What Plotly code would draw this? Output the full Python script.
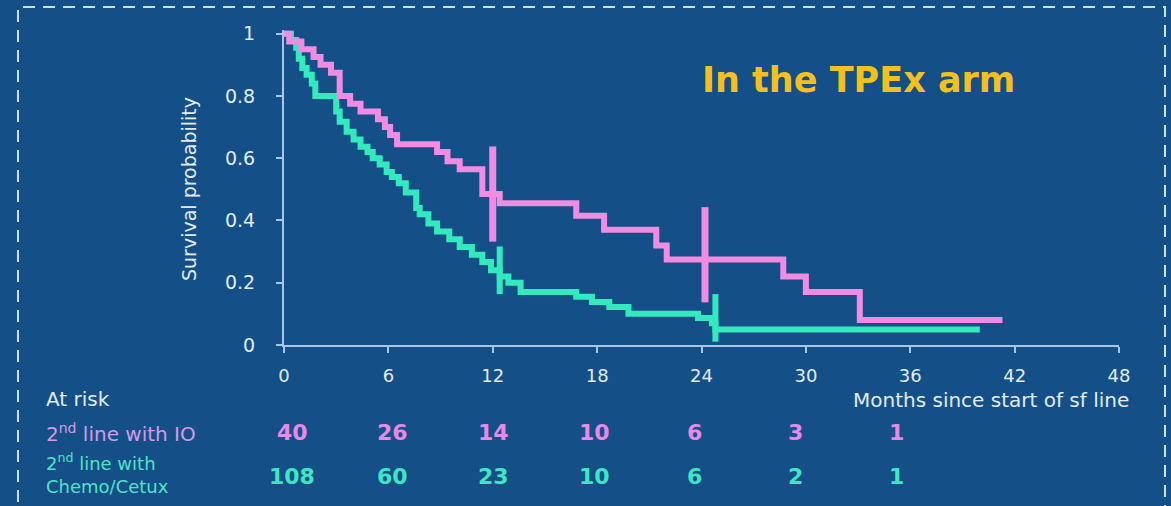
import plotly.graph_objects as go

# Kaplan-Meier step curves (months, survival probability)
io_time = [0, 0.3, 1.0, 1.7, 2.1, 2.7, 3.2, 3.8, 4.4, 5.4, 5.8, 6.1, 6.5, 8.8, 9.4,
           10.1, 11.4, 12.4, 16.8, 18.4, 21.4, 22.0, 28.7, 30.0, 33.1, 41.3]
io_surv = [1.0, 0.975, 0.95, 0.925, 0.90, 0.875, 0.80, 0.775, 0.75, 0.725, 0.70, 0.675,
           0.645, 0.62, 0.59, 0.565, 0.485, 0.455, 0.415, 0.37, 0.32, 0.275, 0.22, 0.17,
           0.08, 0.08]

chemo_time = [0, 0.4, 0.7, 0.85, 1.05, 1.3, 1.6, 1.8, 3.0, 3.2, 3.6, 4.0, 4.4, 4.8, 5.1,
              5.5, 5.9, 6.2, 6.6, 7.0, 7.6, 7.8, 8.3, 8.8, 9.5, 10.1, 10.8, 11.4, 11.9,
              12.4, 12.9, 13.6, 16.8, 17.7, 18.7, 19.8, 23.8, 24.6, 24.8, 40.0]
chemo_surv = [1.0, 0.98, 0.955, 0.92, 0.89, 0.868, 0.84, 0.80, 0.75, 0.717, 0.685, 0.66,
              0.637, 0.62, 0.60, 0.58, 0.556, 0.54, 0.52, 0.49, 0.44, 0.42, 0.39, 0.365,
              0.34, 0.315, 0.29, 0.267, 0.24, 0.22, 0.20, 0.17, 0.155, 0.138, 0.122,
              0.10, 0.087, 0.07, 0.05, 0.05]

# Censoring marks
io_cens_time = [12.0, 24.2]
io_cens_surv = [0.485, 0.29]
chemo_cens_time = [12.4, 24.8]
chemo_cens_surv = [0.24, 0.087]

# Numbers at risk
risk_times = [0, 6, 12, 18, 24, 30, 36]
io_at_risk = [40, 26, 14, 10, 6, 3, 1]
chemo_at_risk = [108, 60, 23, 10, 6, 2, 1]

x_ticks = [0, 6, 12, 18, 24, 30, 36, 42, 48]
y_ticks = [0, 0.2, 0.4, 0.6, 0.8, 1]
y_tick_text = ["0", "0.2", "0.4", "0.6", "0.8", "1"]

BG = "#144f87"
PINK = "#f08ce2"
TEAL = "#33e9be"
AXIS = "#a7c8e4"
TEXT = "#e2ecf5"
FONT = "DejaVu Sans"

fig = go.Figure()

fig.add_trace(go.Scatter(x=chemo_time, y=chemo_surv, mode="lines", line_shape="hv",
                         line=dict(color=TEAL, width=6), hoverinfo="skip"))
fig.add_trace(go.Scatter(x=io_time, y=io_surv, mode="lines", line_shape="hv",
                         line=dict(color=PINK, width=6), hoverinfo="skip"))
fig.add_trace(go.Scatter(x=chemo_cens_time, y=chemo_cens_surv, mode="markers",
                         marker=dict(symbol="line-ns", size=34,
                                     line=dict(color=TEAL, width=6)),
                         cliponaxis=False, hoverinfo="skip"))
fig.add_trace(go.Scatter(x=io_cens_time, y=io_cens_surv, mode="markers",
                         marker=dict(symbol="line-ns", size=68,
                                     line=dict(color=PINK, width=7)),
                         cliponaxis=False, hoverinfo="skip"))

# Plot-area geometry used for placing the free text
L, R, T, B = 284, 52, 30, 161
W, H = 1171, 506
PW, PH = W - L - R, H - T - B


def px_x(px):
    return (px - L) / PW


def px_y(py):
    return (H - B - py) / PH


annotations = [
    dict(text="<b>In the TPEx arm</b>", x=px_x(858), y=px_y(80), xref="paper", yref="paper",
         showarrow=False, font=dict(family=FONT, size=35, color="#f4c020"),
         xanchor="center", yanchor="middle"),
    dict(text="Survival probability", x=px_x(189), y=px_y(189), xref="paper", yref="paper",
         textangle=-90, showarrow=False, font=dict(family=FONT, size=19, color=TEXT),
         xanchor="center", yanchor="middle"),
    dict(text="Months since start of sf line", x=px_x(1131), y=px_y(400), xref="paper",
         yref="paper", showarrow=False, font=dict(family=FONT, size=20, color=TEXT),
         xanchor="right", yanchor="middle"),
    dict(text="At risk", x=px_x(44), y=px_y(399), xref="paper", yref="paper",
         showarrow=False, font=dict(family=FONT, size=20, color=TEXT),
         xanchor="left", yanchor="middle"),
    dict(text="2<sup>nd</sup> line with IO", x=px_x(44), y=px_y(433), xref="paper",
         yref="paper", showarrow=False, font=dict(family=FONT, size=20, color="#d59ae4"),
         xanchor="left", yanchor="middle", align="left"),
    dict(text="2<sup>nd</sup> line with<br>Chemo/Cetux", x=px_x(44), y=px_y(474),
         xref="paper", yref="paper", showarrow=False,
         font=dict(family=FONT, size=18, color="#4fe3c8"),
         xanchor="left", yanchor="middle", align="left"),
]

# at-risk columns sit on a slightly narrower spacing than the axis ticks
for t, n_io, n_ch in zip(risk_times, io_at_risk, chemo_at_risk):
    xc = 0.46 + 0.965 * t
    annotations.append(dict(text=f"<b>{n_io}</b>", x=xc, y=px_y(433), xref="x", yref="paper",
                            showarrow=False, font=dict(family=FONT, size=22, color="#e68ae4"),
                            xanchor="center", yanchor="middle"))
    annotations.append(dict(text=f"<b>{n_ch}</b>", x=xc, y=px_y(476), xref="x", yref="paper",
                            showarrow=False, font=dict(family=FONT, size=22, color="#3fe6c4"),
                            xanchor="center", yanchor="middle"))

fig.update_layout(
    width=W, height=H,
    margin=dict(l=L, r=R, t=T, b=B),
    paper_bgcolor=BG, plot_bgcolor=BG,
    showlegend=False,
    annotations=annotations,
    shapes=[dict(type="rect", xref="paper", yref="paper",
                 x0=px_x(18), x1=px_x(1165), y0=px_y(530), y1=px_y(7),
                 line=dict(color="#cfe2f1", width=2, dash="12px,8px"),
                 fillcolor="rgba(0,0,0,0)", layer="below")],
    xaxis=dict(range=[0, 48], tickvals=x_ticks, showgrid=False, zeroline=False,
               showline=True, linecolor=AXIS, linewidth=2,
               ticks="outside", ticklen=6, tickwidth=2, tickcolor=AXIS,
               ticklabelstandoff=7,
               tickfont=dict(family=FONT, size=18, color=TEXT)),
    yaxis=dict(range=[0, 1.012], tickvals=y_ticks, ticktext=y_tick_text, showgrid=False,
               zeroline=False, showline=True, linecolor=AXIS, linewidth=2,
               ticks="outside", ticklen=6, tickwidth=2, tickcolor=AXIS,
               ticklabelstandoff=17,
               tickfont=dict(family=FONT, size=19, color=TEXT)),
)

fig.write_html("out.html")
